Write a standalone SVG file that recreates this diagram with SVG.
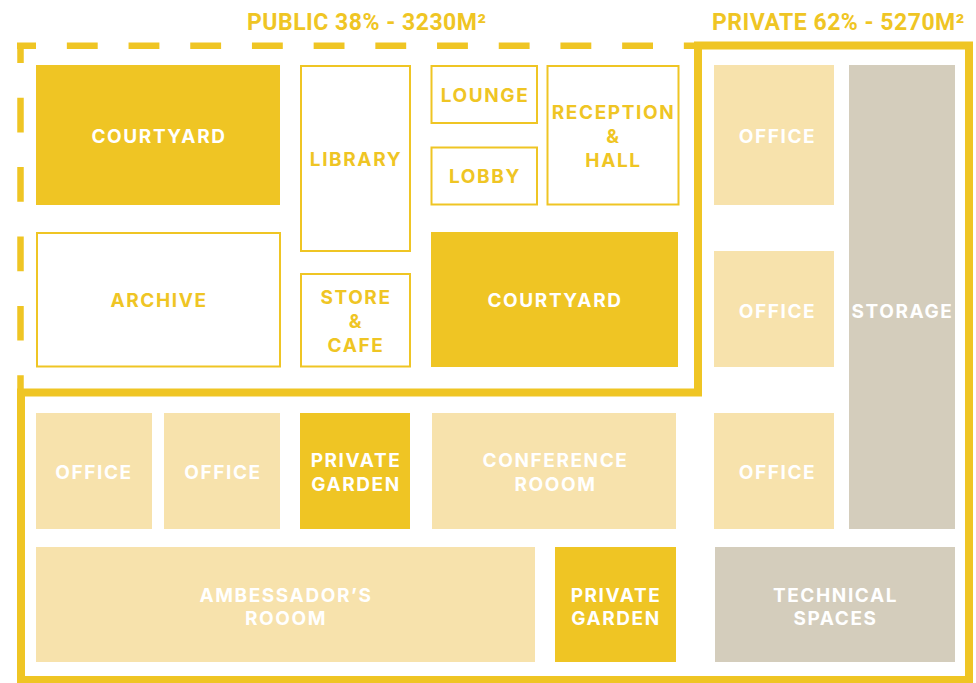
<svg xmlns="http://www.w3.org/2000/svg" width="976" height="683" viewBox="0 0 976 683">
<defs>
<style>
.bg{fill:#ffffff}
.solid{fill:#EFC524}
.light{fill:#F7E2AC}
.grey{fill:#D4CDBC}
.outline{fill:#ffffff;stroke:#EFC524;stroke-width:2}
.lbl{font-family:Inter,"Liberation Sans",Arial,sans-serif;font-weight:700;font-size:19px;letter-spacing:1.6px;text-anchor:middle}
.w{fill:#ffffff}
.y{fill:#EFC524}
.hdr{font-family:Roboto,"Liberation Sans",Arial,sans-serif;font-weight:700;font-size:23px;letter-spacing:0.5px;fill:#EFC524}
.dash{fill:none;stroke:#EFC524;stroke-width:6.5}
.zone{fill:none;stroke:#EFC524;stroke-width:8}
</style>
</defs>
<rect class="bg" x="0" y="0" width="976" height="683"/>
<g id="headers">
<text class="hdr" x="247" y="29.5">PUBLIC 38% - 3230M²</text>
<text class="hdr" x="712" y="29.5">PRIVATE 62% - 5270M²</text>
</g>
<g id="zones">
<line class="dash" x1="20.5" y1="43" x2="20.5" y2="390" stroke-dasharray="34.7 34.7" stroke-dashoffset="14.7"/>
<line class="dash" x1="17" y1="45.8" x2="698" y2="45.8" stroke-dasharray="30.85 30.85" stroke-dashoffset="11.85"/>
<path class="zone" d="M698,45.5 H969 V680 H21 V392.5 H698 Z"/>
</g>
<g id="courtyard1"><rect class="solid" x="36" y="65" width="244" height="140"/><text class="lbl w" x="159" y="142.5">COURTYARD</text></g>
<g id="library"><rect class="outline" x="301" y="66" width="109" height="185"/><text class="lbl y" x="356" y="166">LIBRARY</text></g>
<g id="lounge"><rect class="outline" x="431.5" y="66" width="105.5" height="57"/><text class="lbl y" x="485" y="102">LOUNGE</text></g>
<g id="lobby"><rect class="outline" x="431.5" y="147.5" width="105.5" height="57"/><text class="lbl y" x="485" y="183">LOBBY</text></g>
<g id="reception"><rect class="outline" x="547.5" y="66" width="131" height="138.5"/><text class="lbl y" x="613.5" y="119">RECEPTION</text><text class="lbl y" x="613.5" y="143">&amp;</text><text class="lbl y" x="613.5" y="166.5">HALL</text></g>
<g id="archive"><rect class="outline" x="37" y="233" width="243" height="133.5"/><text class="lbl y" x="159" y="307">ARCHIVE</text></g>
<g id="storecafe"><rect class="outline" x="301" y="274" width="109" height="92.5"/><text class="lbl y" x="356" y="304">STORE</text><text class="lbl y" x="356" y="328">&amp;</text><text class="lbl y" x="356" y="352">CAFE</text></g>
<g id="courtyard2"><rect class="solid" x="431" y="232" width="247" height="135"/><text class="lbl w" x="555" y="307">COURTYARD</text></g>
<g id="office-r1"><rect class="light" x="714" y="65" width="120" height="140"/><text class="lbl w" x="777.5" y="142.5">OFFICE</text></g>
<g id="office-r2"><rect class="light" x="714" y="251" width="120" height="116"/><text class="lbl w" x="777.5" y="317.5">OFFICE</text></g>
<g id="office-r3"><rect class="light" x="714" y="413" width="120" height="116"/><text class="lbl w" x="777.5" y="479">OFFICE</text></g>
<g id="storage"><rect class="grey" x="849" y="65" width="106" height="464"/><text class="lbl w" x="902.5" y="317.5">STORAGE</text></g>
<g id="office-1"><rect class="light" x="36" y="413" width="116" height="116"/><text class="lbl w" x="94" y="479">OFFICE</text></g>
<g id="office-2"><rect class="light" x="164" y="413" width="116" height="116"/><text class="lbl w" x="223" y="479">OFFICE</text></g>
<g id="garden1"><rect class="solid" x="300" y="413" width="110" height="116"/><text class="lbl w" x="356" y="467">PRIVATE</text><text class="lbl w" x="356" y="491">GARDEN</text></g>
<g id="conference"><rect class="light" x="432" y="413" width="244" height="116"/><text class="lbl w" x="555.5" y="467">CONFERENCE</text><text class="lbl w" x="555.5" y="491">ROOOM</text></g>
<g id="ambassador"><rect class="light" x="36" y="547" width="499" height="115"/><text class="lbl w" x="286" y="601.5">AMBESSADOR’S</text><text class="lbl w" x="286" y="625">ROOOM</text></g>
<g id="garden2"><rect class="solid" x="555" y="547" width="121" height="115"/><text class="lbl w" x="616" y="601.5">PRIVATE</text><text class="lbl w" x="616" y="625">GARDEN</text></g>
<g id="technical"><rect class="grey" x="715" y="547" width="240" height="115"/><text class="lbl w" x="835.5" y="601.5">TECHNICAL</text><text class="lbl w" x="835.5" y="625">SPACES</text></g>
<g id="connectors"></g>
</svg>
